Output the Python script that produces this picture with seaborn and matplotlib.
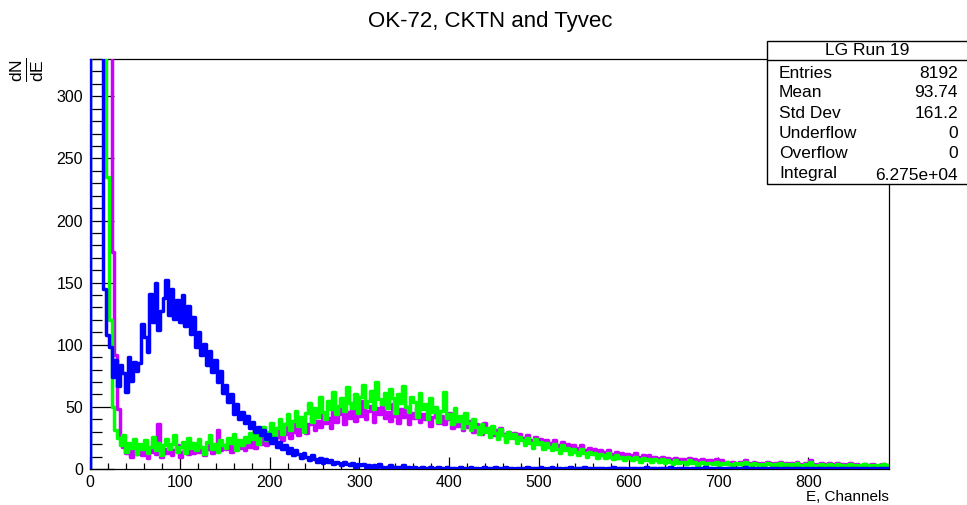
import numpy as np
import pandas as pd
import matplotlib
matplotlib.use("Agg")
import matplotlib.pyplot as plt
from matplotlib.patches import Rectangle
from matplotlib.ticker import MultipleLocator
import seaborn as sns

# ---- data: counts per 3-channel bin, starting at channel 0 ----
bin_width = 3

tyvec_blue = [
    2600, 2000, 1400, 900, 600, 145, 108, 98, 74, 88,
    67, 84, 77, 62, 90, 71, 86, 79, 85, 117,
    106, 94, 141, 118, 150, 112, 127, 138, 152, 124,
    145, 121, 136, 118, 140, 115, 131, 109, 122, 98,
    110, 92, 101, 84, 95, 78, 88, 70, 79, 61,
    68, 54, 60, 44, 52, 40, 46, 37, 43, 33,
    38, 30, 34, 27, 31, 24, 28, 21, 25, 18,
    22, 16, 19, 13, 17, 11, 15, 12, 9, 13,
    10, 7, 11, 8, 6, 9, 5, 8, 6, 7,
    4, 6, 5, 3, 6, 4, 3, 5, 2, 4,
    3, 4, 2, 3, 1, 3, 2, 4, 2, 1,
    2, 3, 1, 2, 2, 1, 3, 1, 2, 1,
    2, 1, 1, 2, 1, 0, 2, 1, 1, 2,
    1, 1, 2, 1, 1, 1, 0, 2, 1, 1,
    1, 2, 1, 1, 0, 1, 2, 1, 1, 1,
    2, 1, 1, 1, 2, 1, 1, 0, 1, 1,
    1, 1, 2, 1, 1, 1, 1, 2, 1, 0,
    1, 2, 1, 1, 1, 0, 1, 1, 2, 1,
    1, 1, 1, 2, 1, 1, 0, 1, 1, 1,
    1, 0, 1, 1, 2, 1, 1, 1, 1, 0,
    1, 1, 1, 0, 1, 1, 2, 1, 1, 1,
    0, 1, 1, 1, 1, 2, 1, 0, 1, 1,
    1, 1, 0, 1, 1, 1, 1, 1, 2, 1,
    1, 0, 1, 1, 1, 0, 1, 1, 1, 1,
    1, 1, 1, 2, 0, 1, 1, 1, 0, 1,
    1, 0, 1, 1, 1, 1, 0, 1, 1, 1,
    0, 1, 1, 1, 0, 1, 1, 1, 1, 0,
    1, 1, 0, 1, 1, 1, 1, 0, 1, 1,
    1, 0, 1, 1, 1, 0, 1, 1, 1, 0,
    1, 1, 0, 1, 1, 1, 1,
]

cktn_green = [
    3000, 2400, 1800, 1200, 800, 350, 235, 120, 50, 31,
    25, 19, 27, 14, 21, 17, 24, 12, 20, 16,
    23, 13, 18, 26, 15, 21, 11, 19, 24, 16,
    20, 27, 14, 18, 22, 13, 25, 17, 21, 15,
    24, 18, 12, 22, 27, 16, 20, 14, 23, 19,
    17, 25, 21, 28, 15, 23, 19, 26, 22, 29,
    24, 31, 20, 27, 34, 23, 30, 37, 26, 33,
    40, 28, 36, 44, 31, 39, 47, 35, 42, 30,
    45, 53, 38, 49, 42, 58, 46, 40, 55, 48,
    62, 44, 51, 57, 47, 66, 53, 49, 60, 45,
    58, 68, 50, 55, 63, 48, 70, 56, 52, 61,
    49, 64, 57, 45, 60, 53, 67, 50, 46, 58,
    54, 42, 61, 48, 52, 40, 57, 46, 50, 38,
    47, 62, 41, 44, 36, 49, 39, 43, 33, 45,
    37, 31, 40, 34, 28, 36, 30, 33, 26, 35,
    29, 24, 32, 27, 22, 30, 25, 28, 21, 26,
    23, 19, 25, 21, 17, 24, 20, 22, 16, 21,
    18, 15, 20, 16, 13, 19, 15, 17, 12, 16,
    14, 11, 16, 13, 10, 14, 12, 13, 9, 12,
    11, 9, 13, 10, 8, 11, 9, 10, 7, 10,
    9, 7, 10, 8, 6, 9, 7, 8, 6, 8,
    7, 6, 8, 5, 7, 6, 4, 7, 5, 6,
    6, 4, 7, 5, 6, 3, 5, 6, 4, 5,
    5, 4, 6, 3, 5, 4, 6, 4, 3, 5,
    4, 5, 3, 6, 4, 3, 5, 4, 3, 4,
    3, 5, 4, 3, 4, 2, 5, 3, 4, 3,
    4, 3, 5, 3, 2, 4, 3, 6, 3, 2,
    3, 4, 2, 3, 4, 3, 2, 4, 3, 3,
    2, 3, 4, 2, 3, 2, 3, 4, 2, 3,
    3, 2, 3, 2, 4, 2, 3,
]

ok72_magenta = [
    3500, 2900, 2300, 1800, 1300, 900, 600, 400, 175, 92,
    48, 24, 18, 13, 16, 10, 19, 12, 15, 11,
    17, 9, 14, 20, 12, 36, 10, 16, 13, 18,
    11, 15, 19, 10, 14, 17, 12, 20, 13, 16,
    14, 18, 11, 16, 21, 13, 17, 31, 15, 19,
    16, 21, 14, 19, 23, 17, 20, 15, 24, 18,
    22, 17, 25, 20, 27, 19, 24, 29, 21, 26,
    31, 23, 28, 34, 25, 30, 37, 27, 33, 38,
    29, 36, 42, 31, 39, 34, 45, 37, 41, 33,
    47, 38, 44, 51, 36, 46, 41, 53, 39, 48,
    43, 55, 40, 47, 51, 38, 49, 44, 54, 41,
    46, 39, 52, 43, 37, 48, 42, 50, 36, 45,
    41, 49, 38, 44, 40, 47, 35, 42, 46, 37,
    43, 36, 40, 45, 33, 39, 35, 41, 31, 37,
    34, 39, 30, 36, 32, 28, 37, 31, 33, 27,
    31, 26, 33, 28, 24, 30, 27, 29, 23, 28,
    25, 22, 27, 23, 20, 26, 21, 24, 19, 23,
    21, 18, 23, 19, 16, 22, 18, 20, 15, 19,
    17, 14, 19, 15, 13, 17, 14, 16, 12, 15,
    14, 11, 15, 12, 10, 14, 11, 13, 10, 12,
    11, 9, 13, 10, 8, 11, 9, 11, 8, 10,
    9, 8, 10, 7, 9, 8, 6, 9, 7, 8,
    8, 6, 9, 7, 8, 5, 7, 8, 6, 7,
    7, 5, 8, 6, 7, 5, 6, 4, 6, 5,
    5, 6, 4, 7, 5, 4, 6, 5, 4, 5,
    4, 6, 5, 4, 5, 3, 6, 4, 5, 4,
    5, 4, 6, 4, 3, 5, 4, 7, 4, 3,
    4, 5, 3, 4, 5, 3, 4, 5, 3, 4,
    3, 4, 5, 3, 4, 3, 2, 4, 3, 3,
    4, 3, 2, 3, 4, 3, 3,
]

stats_labels = ["Entries", "Mean", "Std Dev", "Underflow", "Overflow", "Integral"]
stats_values = ["8192", "93.74", "161.2", "0", "0", "6.275e+04"]

# ---- style ----
sns.set_theme(style="white")
plt.rcParams["font.family"] = ["Liberation Sans", "DejaVu Sans"]
plt.rcParams["text.color"] = "black"
plt.rcParams["axes.labelcolor"] = "black"
plt.rcParams["xtick.color"] = "black"
plt.rcParams["ytick.color"] = "black"
plt.rcParams["mathtext.fontset"] = "custom"
plt.rcParams["mathtext.rm"] = "Liberation Sans"
plt.rcParams["mathtext.it"] = "Liberation Sans"
plt.rcParams["mathtext.default"] = "regular"

W, H = 967, 505
fig = plt.figure(figsize=(W / 100, H / 100), dpi=100)
ax = fig.add_axes([90 / W, 1 - 469 / H, (889 - 90) / W, (469 - 59) / H])

series = [
    ("OK-72", ok72_magenta, "#cc00ff"),
    ("CKTN", cktn_green, "#00ff00"),
    ("Tyvec", tyvec_blue, "#0000ff"),
]
lw = 2.5
for name, vals, col in series:
    edges = np.arange(0, bin_width * len(vals) + 1, bin_width)
    df = pd.DataFrame({"E": edges[:-1] + bin_width / 2, "counts": vals})
    sns.histplot(data=df, x="E", weights="counts", binwidth=bin_width,
                 binrange=(edges[0], edges[-1]),
                 element="step", fill=False, color=col, linewidth=lw,
                 ax=ax, zorder=3)
    # rising edge of the first bin
    ax.plot([edges[0], edges[0]], [0, vals[0]], color=col, linewidth=lw,
            zorder=3, solid_capstyle="butt")

ax.set_xlim(0, 890)
ax.set_ylim(0, 330)
ax.set_xlabel("")
ax.set_ylabel("")

ax.xaxis.set_major_locator(MultipleLocator(100))
ax.xaxis.set_minor_locator(MultipleLocator(20))
ax.yaxis.set_major_locator(MultipleLocator(50))
ax.yaxis.set_minor_locator(MultipleLocator(10))
ax.tick_params(axis="both", which="both", direction="in", color="black",
               labelsize=11.5, labelcolor="black", bottom=True, left=True,
               top=False, right=False)
ax.tick_params(axis="y", which="major", length=17, width=0.9, pad=5)
ax.tick_params(axis="y", which="minor", length=8.5, width=0.9)
ax.tick_params(axis="x", which="major", length=8.5, width=0.9, pad=4)
ax.tick_params(axis="x", which="minor", length=4.3, width=0.9)
for s in ax.spines.values():
    s.set_visible(True)
    s.set_color("black")
    s.set_linewidth(0.9)

# title and axis captions
fig.text(490 / W, 1 - 22 / H, "OK-72, CKTN and Tyvec", ha="center",
         va="center", fontsize=16, color="black")
fig.text(889 / W, 1 - 497 / H, "E, Channels", ha="right", va="center",
         fontsize=11, color="black")
fig.text(27 / W, 1 - 58 / H, r"$\frac{dN}{dE}$", ha="center", va="top",
         rotation=90, fontsize=18, color="black")

# statistics box
bx0, bx1, by0, by1 = 767, 969, 41, 184
fig.patches.append(Rectangle((bx0 / W, 1 - by1 / H), (bx1 - bx0) / W,
                             (by1 - by0) / H, transform=fig.transFigure,
                             facecolor="white", edgecolor="black",
                             linewidth=1.0, zorder=5))
fig.lines.append(plt.Line2D([bx0 / W, bx1 / W], [1 - 60 / H, 1 - 60 / H],
                            transform=fig.transFigure, color="black",
                            linewidth=1.0, zorder=6))
fig.text(867 / W, 1 - 50.5 / H, "LG Run 19", ha="center", va="center",
         fontsize=12.5, zorder=7, color="black")
row_y = [73, 93, 113, 134, 154, 173]
for lab, val, yy in zip(stats_labels, stats_values, row_y):
    fig.text(779 / W, 1 - yy / H, lab, ha="left", va="center",
             fontsize=12.5, zorder=7, color="black")
    fig.text(958 / W, 1 - (yy + (3 if lab == "Integral" else 0)) / H, val,
             ha="right", va="center", fontsize=12.5, zorder=7, color="black")

fig.savefig("out.png", dpi=100)
